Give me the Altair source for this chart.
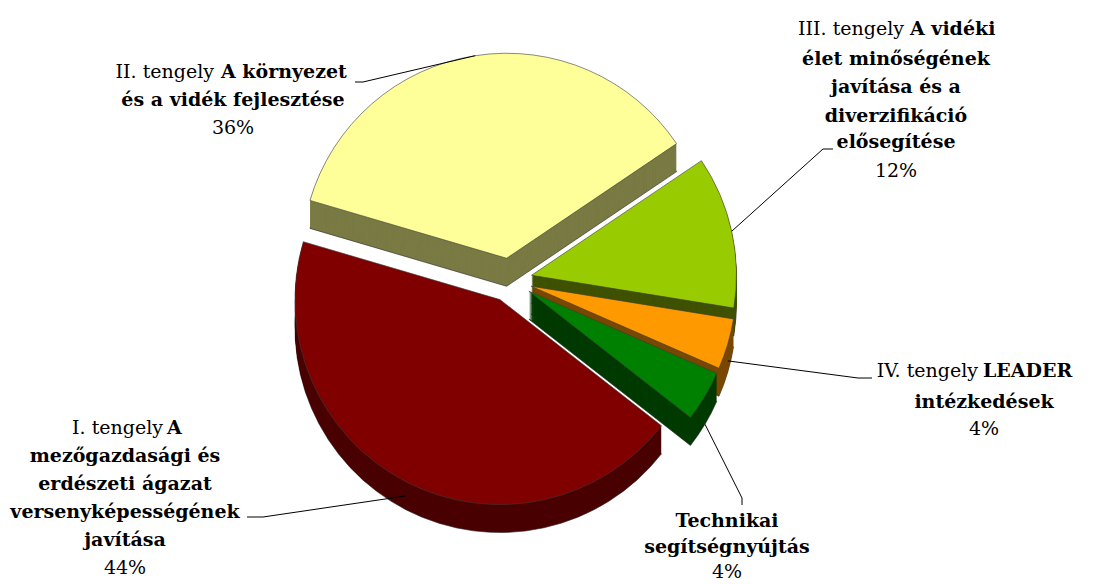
import altair as alt
import pandas as pd

# ---- data ----
names = ["I", "II", "III", "IV", "TA"]
values = [44, 36, 12, 4, 4]

# ---- styles ----
top_colors = ["#800000", "#FFFF99", "#99CC00", "#FF9900", "#008000"]
side_colors = ["#4a0000", "#7a7a44", "#3f5200", "#7a4800", "#003a00"]

# ---- geometry (pixels) ----
START = 2.234   # start angle of first slice, radians
R = 205         # pie radius
E = 22          # explode distance
D = 28          # 3D depth
CX, CY = 502, 272
FONT = "DejaVu Serif"
FS = 19

df = pd.DataFrame({"name": names, "value": values, "order": list(range(len(names))),
                   "top": top_colors, "side": side_colors})

base = (
    alt.Chart(df)
    .transform_joinaggregate(total="sum(value)")
    .transform_window(cum="sum(value)", sort=[alt.SortField("order")], frame=[None, 0])
    .transform_calculate(
        t1=f"{START} + 2*PI*datum.cum/datum.total",
        t0=f"{START} + 2*PI*(datum.cum - datum.value)/datum.total",
    )
    .transform_calculate(mid="(datum.t0 + datum.t1)/2")
    .transform_calculate(cx=f"{CX} + {E}*sin(datum.mid)", cy=f"{CY} - {E}*cos(datum.mid)")
)

enc = dict(
    theta=alt.Theta("t0:Q", scale=None),
    theta2=alt.Theta2("t1:Q"),
    x=alt.X("cx:Q", scale=None),
    y=alt.Y("cy:Q", scale=None),
)

layers = []
for k in range(D, 0, -1):
    if k == D:
        m = base.mark_arc(radius=R, yOffset=k, stroke="#222222", strokeWidth=0.6)
    else:
        m = base.mark_arc(radius=R, yOffset=k)
    layers.append(m.encode(**enc, fill=alt.Fill("side:N", scale=None)))

layers.append(
    base.mark_arc(radius=R, stroke="#3a3a3a", strokeWidth=0.6).encode(
        **enc, fill=alt.Fill("top:N", scale=None)
    )
)

# ---- leader lines ----
lead_layout = pd.DataFrame({
    "name": names,
    "ex": [255, 355, 815, 850, 734],
    "ey": [509, 74, 141, 370, 490],
    "tx": [239, 347, 825, 864, 734],
    "ty": [509, 74, 141, 370, 497],
    "sh": [D * 0.5, 0, 0, D * 0.6, D],
})
leaders = base.transform_lookup(
    lookup="name", from_=alt.LookupData(lead_layout, "name", ["ex", "ey", "tx", "ty", "sh"])
).transform_calculate(
    ax=f"datum.cx + {R}*sin(datum.mid)",
    ay=f"datum.cy - {R}*cos(datum.mid) + datum.sh",
)
layers.append(leaders.mark_rule(color="black", strokeWidth=1).encode(
    x=alt.X("ax:Q", scale=None), y=alt.Y("ay:Q", scale=None), x2="ex:Q", y2="ey:Q"))
layers.append(leaders.mark_rule(color="black", strokeWidth=1).encode(
    x=alt.X("ex:Q", scale=None), y=alt.Y("ey:Q", scale=None), x2="tx:Q", y2="ty:Q"))

# ---- labels ----
pct = {n: f"{v}%" for n, v in zip(names, values)}
label_rows = [
    # text, x, y, style
    ("I. tengely", 155, 426, "reg_right"),
    ("A", 159, 426, "bold_left"),
    ("mezőgazdasági és", 117, 454, "bold_center"),
    ("erdészeti ágazat", 117, 482, "bold_center"),
    ("versenyképességének", 117, 510, "bold_center"),
    ("javítása", 117, 538, "bold_center"),
    (pct["I"], 117, 566, "reg_center"),

    ("II. tengely", 206, 70, "reg_right"),
    ("A környezet", 213, 70, "bold_left"),
    ("és a vidék fejlesztése", 225, 98, "bold_center"),
    (pct["II"], 225, 126, "reg_center"),

    ("III. tengely", 896, 27, "reg_right"),
    ("A vidéki", 902, 27, "bold_left"),
    ("élet minőségének", 888, 57, "bold_center"),
    ("javítása és a", 888, 85, "bold_center"),
    ("diverzifikáció", 888, 114, "bold_center"),
    ("elősegítése", 888, 140, "bold_center"),
    (pct["III"], 888, 169, "reg_center"),

    ("IV. tengely", 970, 369, "reg_right"),
    ("LEADER", 975, 369, "bold_left"),
    ("intézkedések", 976, 400, "bold_center"),
    (pct["IV"], 976, 427, "reg_center"),

    ("Technikai", 719, 519, "bold_center"),
    ("segítségnyújtás", 719, 545, "bold_center"),
    (pct["TA"], 719, 570, "reg_center"),
]
labels = pd.DataFrame(label_rows, columns=["text", "x", "y", "style"])

styles = {
    "reg_right": ("normal", "right"),
    "reg_center": ("normal", "center"),
    "bold_left": ("bold", "left"),
    "bold_center": ("bold", "center"),
}
for st, (w, al) in styles.items():
    layers.append(
        alt.Chart(labels)
        .transform_filter(alt.datum.style == st)
        .mark_text(font=FONT, fontSize=FS, fontWeight=w, align=al, baseline="alphabetic", color="black")
        .encode(x=alt.X("x:Q", scale=None), y=alt.Y("y:Q", scale=None), text="text:N")
    )

chart = (
    alt.layer(*layers)
    .properties(width=1080, height=568, padding=0, background="white")
    .configure_view(stroke=None)
)

chart.save("out.html", embed_options={"renderer": "svg", "actions": False})
